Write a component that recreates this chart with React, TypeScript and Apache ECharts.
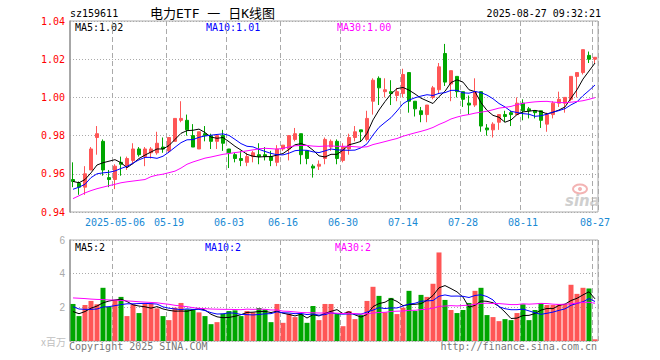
import React, { useEffect, useRef } from "react";
import * as echarts from "echarts";

const dates = [
  "2025-04-22", "2025-04-23", "2025-04-24", "2025-04-25", "2025-04-28", "2025-04-29", "2025-04-30",
  "2025-05-06", "2025-05-07", "2025-05-08", "2025-05-09", "2025-05-12", "2025-05-13", "2025-05-14",
  "2025-05-15", "2025-05-16", "2025-05-19", "2025-05-20", "2025-05-21", "2025-05-22", "2025-05-23",
  "2025-05-26", "2025-05-27", "2025-05-28", "2025-05-29", "2025-05-30",
  "2025-06-03", "2025-06-04", "2025-06-05", "2025-06-06", "2025-06-09", "2025-06-10", "2025-06-11",
  "2025-06-12", "2025-06-13", "2025-06-16", "2025-06-17", "2025-06-18", "2025-06-19", "2025-06-20",
  "2025-06-23", "2025-06-24", "2025-06-25", "2025-06-26", "2025-06-27", "2025-06-30",
  "2025-07-01", "2025-07-02", "2025-07-03", "2025-07-04", "2025-07-07", "2025-07-08", "2025-07-09",
  "2025-07-10", "2025-07-11", "2025-07-14", "2025-07-15", "2025-07-16", "2025-07-17", "2025-07-18",
  "2025-07-21", "2025-07-22", "2025-07-23", "2025-07-24", "2025-07-25", "2025-07-28", "2025-07-29",
  "2025-07-30", "2025-07-31",
  "2025-08-01", "2025-08-04", "2025-08-05", "2025-08-06", "2025-08-07", "2025-08-08", "2025-08-11",
  "2025-08-12", "2025-08-13", "2025-08-14", "2025-08-15", "2025-08-18", "2025-08-19", "2025-08-20",
  "2025-08-21", "2025-08-22", "2025-08-25", "2025-08-26", "2025-08-27",
];

const opens = [
  0.957, 0.955, 0.953, 0.962, 0.979, 0.977, 0.958, 0.957, 0.966, 0.964,
  0.967, 0.973, 0.969, 0.971, 0.971, 0.974, 0.972, 0.977, 0.988, 0.988,
  0.980, 0.973, 0.981, 0.980, 0.977, 0.980, 0.973, 0.970, 0.968, 0.966,
  0.969, 0.970, 0.970, 0.969, 0.966, 0.973, 0.973, 0.978, 0.981, 0.972,
  0.964, 0.964, 0.968, 0.974, 0.977, 0.967, 0.973, 0.979, 0.983, 0.978,
  0.998, 1.010, 1.003, 1.003, 1.001, 1.002, 1.013, 0.998, 0.993, 0.991,
  1.000, 1.004, 1.023, 1.007, 1.011, 1.003, 0.997, 0.996, 1.003, 0.984,
  0.983, 0.987, 0.991, 0.992, 0.991, 0.997, 0.994, 0.993, 0.993, 0.986,
  0.991, 0.997, 0.997, 0.999, 1.011, 1.013, 1.022, 1.020,
];
const closes = [
  0.956, 0.953, 0.960, 0.973, 0.981, 0.962, 0.957, 0.964, 0.965, 0.968,
  0.973, 0.970, 0.973, 0.973, 0.976, 0.973, 0.979, 0.989, 0.989, 0.983,
  0.974, 0.982, 0.980, 0.977, 0.980, 0.976, 0.971, 0.968, 0.967, 0.969,
  0.971, 0.969, 0.969, 0.967, 0.973, 0.975, 0.980, 0.981, 0.970, 0.968,
  0.963, 0.965, 0.978, 0.977, 0.968, 0.974, 0.979, 0.982, 0.982, 0.989,
  1.009, 1.005, 1.004, 1.002, 1.003, 1.012, 0.998, 0.994, 0.991, 0.996,
  1.005, 1.016, 1.008, 1.014, 1.003, 0.999, 0.996, 1.003, 0.985, 0.983,
  0.986, 0.991, 0.990, 0.991, 0.997, 0.993, 0.993, 0.992, 0.988, 0.991,
  0.997, 0.999, 1.000, 1.011, 1.013, 1.025, 1.020, 1.021,
];
const lows = [
  0.953, 0.949, 0.949, 0.962, 0.970, 0.959, 0.953, 0.952, 0.959, 0.962,
  0.965, 0.969, 0.964, 0.968, 0.970, 0.971, 0.971, 0.977, 0.987, 0.980,
  0.974, 0.973, 0.977, 0.973, 0.973, 0.972, 0.963, 0.966, 0.964, 0.964,
  0.966, 0.965, 0.967, 0.964, 0.964, 0.972, 0.967, 0.977, 0.965, 0.965,
  0.958, 0.962, 0.965, 0.972, 0.965, 0.966, 0.970, 0.977, 0.977, 0.977,
  0.991, 0.996, 1.000, 0.996, 0.998, 1.000, 0.992, 0.990, 0.987, 0.987,
  0.999, 1.002, 1.006, 0.998, 1.000, 0.995, 0.991, 0.995, 0.982, 0.980,
  0.979, 0.983, 0.987, 0.985, 0.991, 0.988, 0.989, 0.989, 0.984, 0.982,
  0.989, 0.995, 0.992, 0.998, 1.000, 1.012, 1.018, 1.018,
];
const highs = [
  0.966, 0.956, 0.964, 0.974, 0.985, 0.978, 0.962, 0.965, 0.969, 0.969,
  0.976, 0.974, 0.974, 0.974, 0.982, 0.979, 0.979, 0.989, 0.998, 0.991,
  0.986, 0.982, 0.985, 0.981, 0.980, 0.983, 0.973, 0.971, 0.972, 0.971,
  0.972, 0.976, 0.974, 0.972, 0.975, 0.975, 0.980, 0.984, 0.981, 0.972,
  0.965, 0.967, 0.979, 0.978, 0.978, 0.976, 0.981, 0.985, 0.983, 0.993,
  1.010, 1.011, 1.010, 1.009, 1.005, 1.015, 1.013, 0.998, 0.995, 0.996,
  1.006, 1.018, 1.028, 1.014, 1.011, 1.003, 1.001, 1.010, 1.003, 0.986,
  0.987, 0.991, 0.993, 0.993, 1.000, 0.999, 0.995, 0.993, 0.993, 0.992,
  0.998, 1.003, 1.000, 1.011, 1.013, 1.025, 1.024, 1.021,
];
// volume, in millions
const volumes = [
  2.20, 1.48, 2.14, 2.38, 2.18, 3.16, 2.02, 2.44, 2.62, 1.48,
  2.18, 1.66, 2.22, 2.22, 1.94, 1.48, 1.24, 1.98, 2.26, 1.88,
  1.88, 1.70, 1.48, 1.00, 1.12, 1.62, 1.78, 1.82, 1.48, 1.78,
  1.70, 1.96, 1.88, 1.12, 2.20, 1.08, 1.62, 1.42, 1.62, 1.08,
  2.08, 1.24, 2.20, 2.20, 1.60, 0.88, 1.78, 1.30, 1.54, 2.38,
  3.22, 2.68, 1.70, 2.56, 1.60, 1.98, 2.98, 1.78, 2.74, 2.62,
  3.40, 5.26, 2.44, 1.84, 1.66, 1.84, 2.26, 2.98, 3.16, 1.54,
  1.42, 1.18, 1.30, 1.24, 1.66, 2.18, 1.24, 1.84, 2.26, 2.14,
  2.14, 2.20, 2.20, 3.34, 2.80, 3.16, 3.12, 0.10,
];

// moving-average values at the left edge (their windows reach before the first shown day)
const ma5Head = [0.956, 0.9553, 0.957, 0.9605];
const ma10Head = [0.9519, 0.953, 0.9545, 0.958, 0.96, 0.9605, 0.9608, 0.9615, 0.9628];
const ma30Head = [
  0.947, 0.9485, 0.95, 0.9512, 0.9522, 0.953, 0.9538, 0.9545, 0.9553, 0.9558,
  0.9562, 0.9566, 0.957, 0.9585, 0.9593, 0.9598, 0.9606, 0.9614, 0.963, 0.965,
  0.9662, 0.9672, 0.9682, 0.9688, 0.9695, 0.9702, 0.9706, 0.9711, 0.9715,
];
const volMa5Head = [1.75, 1.62, 1.75, 1.95];
const volMa10Head = [2.04, 1.9, 1.88, 1.88, 1.9, 2.02, 2.04, 2.1, 2.16];
const volMa30Head = [
  2.56, 2.54, 2.52, 2.49, 2.47, 2.46, 2.44, 2.43, 2.41, 2.38,
  2.36, 2.33, 2.31, 2.29, 2.27, 2.22, 2.18, 2.12, 2.08, 2.04,
  1.98, 1.94, 1.92, 1.9, 1.89, 1.88, 1.88, 1.87, 1.86,
];

const labelDates = [
  "2025-05-06", "2025-05-19", "2025-06-03", "2025-06-16", "2025-06-30",
  "2025-07-14", "2025-07-28", "2025-08-11", "2025-08-27",
];
const priceMin = 0.94;
const priceMax = 1.04;
const priceStep = 0.02;
const volMin = 0;
const volMax = 6;
const volStep = 2;

const RED = "#ff5656";
const GREEN = "#00a600";
const MONO = "'DejaVu Sans Mono', 'Liberation Mono', monospace";
const CJK = "'DejaVu Sans Mono', 'Noto Sans CJK SC', monospace";

function movingAvg(values: number[], n: number, head: number[]) {
  return values.map((_, i) => {
    if (i < n - 1) return head[i];
    let s = 0;
    for (let k = i - n + 1; k <= i; k++) s += values[k];
    return s / n;
  });
}

export default function App() {
  const ref = useRef<HTMLDivElement>(null);
  useEffect(() => {
    const chart = echarts.init(ref.current!, null, { renderer: "svg" });
    const ma5 = movingAvg(closes, 5, ma5Head);
    const ma10 = movingAvg(closes, 10, ma10Head);
    const ma30 = movingAvg(closes, 30, ma30Head);
    const vma5 = movingAvg(volumes, 5, volMa5Head);
    const vma10 = movingAvg(volumes, 10, volMa10Head);
    const vma30 = movingAvg(volumes, 30, volMa30Head);
    const last = dates.length - 1;
    const labelSet = new Set(labelDates);
    const showAt = (_i: number, v: string) => labelSet.has(v);
    const dashed = { show: true, interval: showAt, lineStyle: { color: "#aaa", type: [5, 3], width: 1 } };
    const dotted = { show: true, lineStyle: { color: "#aaa", type: [1, 2], width: 1 } };
    const lineS = (name: string, data: number[], color: string, axis: number) => ({
      name, type: "line", xAxisIndex: axis, yAxisIndex: axis, data, symbol: "none",
      lineStyle: { color, width: 1 }, itemStyle: { color }, silent: true, z: 5,
    });
    const txt = (text: string, x: number, y: number, fill: string, font: string, align = "left") => ({
      type: "text", x, y, silent: true,
      style: { text, fill, font, textAlign: align, textVerticalAlign: "middle" },
    });

    chart.setOption({
      animation: false,
      backgroundColor: "#ffffff",
      grid: [
        { left: 70, top: 21, width: 528, height: 191, show: true, borderColor: "#aaa", borderWidth: 1 },
        { left: 70, top: 240, width: 528, height: 101, show: true, borderColor: "#aaa", borderWidth: 1 },
      ],
      xAxis: [
        {
          type: "category", gridIndex: 0, data: dates, boundaryGap: true,
          axisLine: { show: false }, axisTick: { show: false },
          axisLabel: {
            interval: showAt, color: "#1a8ad4", fontFamily: MONO, fontSize: 10, margin: 5,
            formatter: (v: string) => (v === labelDates[0] ? v : v.slice(5)),
          },
          splitLine: dashed,
        },
        {
          type: "category", gridIndex: 1, data: dates, boundaryGap: true,
          axisLine: { show: false }, axisTick: { show: false }, axisLabel: { show: false },
          splitLine: dashed,
        },
      ],
      yAxis: [
        {
          type: "value", gridIndex: 0, min: priceMin, max: priceMax, interval: priceStep,
          axisLine: { show: true, lineStyle: { color: "#999", width: 1.5 } }, axisTick: { show: false },
          axisLabel: { color: "#ff0000", fontFamily: MONO, fontSize: 10, margin: 5, formatter: (v: number) => v.toFixed(2) },
          splitLine: dotted,
        },
        {
          type: "value", gridIndex: 1, min: volMin, max: volMax, interval: volStep,
          axisLine: { show: true, lineStyle: { color: "#999", width: 1.5 } }, axisTick: { show: false },
          axisLabel: { color: "#aaa", fontFamily: "'Liberation Sans', Arial, sans-serif", fontSize: 10, margin: 5, showMinLabel: false },
          splitLine: dotted,
        },
      ],
      series: [
        {
          type: "candlestick", xAxisIndex: 0, yAxisIndex: 0, barWidth: 4,
          data: dates.map((_, i) => [opens[i], closes[i], lows[i], highs[i]]),
          itemStyle: { color: RED, color0: GREEN, borderColor: RED, borderColor0: GREEN, borderWidth: 1 },
          silent: true,
        },
        lineS("MA5", ma5, "#000000", 0),
        lineS("MA10", ma10, "#0000ff", 0),
        lineS("MA30", ma30, "#ff00ff", 0),
        {
          type: "bar", xAxisIndex: 1, yAxisIndex: 1, barWidth: 5, silent: true,
          data: volumes.map((v, i) => ({ value: v, itemStyle: { color: closes[i] >= opens[i] ? RED : GREEN } })),
        },
        lineS("VMA5", vma5, "#000000", 1),
        lineS("VMA10", vma10, "#0000ff", 1),
        lineS("VMA30", vma30, "#ff00ff", 1),
      ],
      graphic: [
        txt("sz159611", 70, 13, "#000", `10px ${MONO}`),
        txt("电力ETF 一 日K线图", 150, 13, "#000", `13px ${CJK}`),
        txt("2025-08-27 09:32:21", 601, 13, "#000", `10px ${MONO}`, "right"),
        txt(`MA5:${ma5[last].toFixed(2)}`, 75, 27, "#000", `10px ${MONO}`),
        txt(`MA10:${ma10[last].toFixed(2)}`, 206, 27, "#0000ff", `10px ${MONO}`),
        txt(`MA30:${ma30[last].toFixed(2)}`, 337, 27, "#ff00ff", `10px ${MONO}`),
        txt(`MA5:${Math.floor(vma5[last])}`, 75, 247, "#000", `10px ${MONO}`),
        txt(`MA10:${Math.floor(vma10[last])}`, 205, 247, "#0000ff", `10px ${MONO}`),
        txt(`MA30:${Math.floor(vma30[last])}`, 335, 247, "#ff00ff", `10px ${MONO}`),
        txt("x百万", 66, 341, "#c0c0c0", `10px 'Noto Sans CJK SC', sans-serif`, "right"),
        txt("Copyright 2025 SINA.COM", 69, 346, "#777", `10px ${MONO}`),
        txt("http://finance.sina.com.cn", 597, 346, "#777", `10px ${MONO}`, "right"),
        { type: "ellipse", silent: true, shape: { cx: 580, cy: 189, rx: 7, ry: 4.5 }, style: { fill: "none", stroke: "#f3b3b3", lineWidth: 2 } },
        { type: "circle", silent: true, shape: { cx: 580, cy: 189, r: 2 }, style: { fill: "#f3b3b3" } },
        txt("sina", 565, 201, "#cfcfcf", `italic bold 15px 'DejaVu Sans', sans-serif`),
      ],
    });
    return () => chart.dispose();
  }, []);
  return <div ref={ref} style={{ position: "absolute", left: 0, top: 0, width: 660, height: 360 }} />;
}
